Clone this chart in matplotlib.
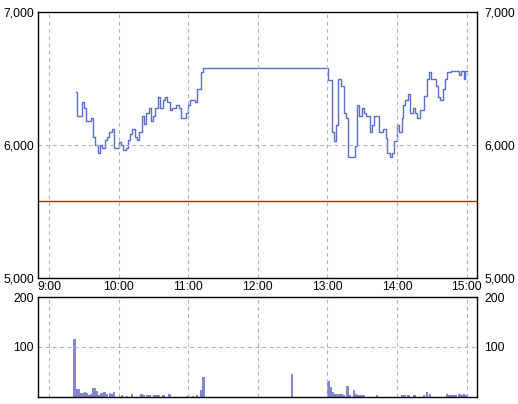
import numpy as np
import matplotlib.pyplot as plt
from matplotlib.ticker import FuncFormatter
from matplotlib.transforms import ScaledTranslation

plt.rcParams['font.family'] = ['Liberation Sans', 'DejaVu Sans']

# price steps: minutes after 9:00 and price
price_min = [23.3, 24.1, 28.5, 30.2, 32.2, 35.9, 37.7, 39.4, 42.3, 44.0,
             45.7, 48.0, 49.7, 51.8, 54.1, 55.8, 60.4, 62.1, 63.8, 66.1,
             67.9, 69.6, 71.6, 73.9, 75.6, 77.3, 80.2, 81.9, 83.7, 86.0,
             87.7, 89.4, 91.7, 94.0, 95.7, 98.0, 99.8, 101.5, 104.4, 105.8,
             109.3, 112.1, 113.9, 117.9, 119.9, 121.3, 125.9, 127.7, 131.4, 132.8,
             240.6, 243.8, 245.5, 247.3, 249.5, 251.6, 253.9, 255.6, 257.9, 263.9,
             265.7, 267.4, 269.7, 271.4, 273.7, 276.6, 278.3, 280.0, 284.1, 288.1,
             290.1, 291.8, 293.8, 295.6, 297.3, 299.6, 301.6, 303.9, 305.3, 307.3,
             309.1, 311.1, 313.4, 315.4, 317.4, 319.7, 323.7, 325.5, 327.8, 329.5,
             333.5, 335.5, 337.5, 339.8, 341.6, 343.3, 346.2, 353.6, 355.4, 357.7,
             358.8]
price = [6400, 6220, 6320, 6280, 6180, 6200, 6060, 6000, 5940, 6000,
         5980, 6040, 6060, 6100, 6120, 5980, 6020, 6000, 5960, 5980,
         6040, 6080, 6120, 6060, 6040, 6100, 6220, 6160, 6240, 6280,
         6180, 6220, 6280, 6360, 6280, 6340, 6360, 6320, 6260, 6280,
         6300, 6280, 6200, 6240, 6300, 6340, 6320, 6420, 6550, 6580,
         6490, 6100, 6030, 6150, 6500, 6440, 6240, 6200, 5910, 5990,
         6300, 6220, 6280, 6240, 6220, 6100, 6150, 6220, 6100, 6120,
         6050, 5940, 5910, 5940, 6030, 6150, 6100, 6200, 6300, 6340,
         6380, 6240, 6280, 6240, 6200, 6260, 6370, 6500, 6550, 6500,
         6440, 6360, 6340, 6420, 6500, 6550, 6560, 6530, 6560, 6500,
         6560]
close_min = 360
ref_price = 5580

# volume bars
vol_min = [22.0, 23.8, 25.5, 28.0, 29.5, 30.9, 32.2, 34.3, 35.9, 37.7,
           39.4, 41.3, 43.1, 45.3, 47.7, 50.0, 52.3, 53.6, 55.8, 63.0,
           67.0, 71.6, 79.6, 81.7, 84.8, 86.5, 90.6, 92.3, 94.3, 98.6,
           103.8, 119.3, 123.9, 127.4, 131.4, 133.1,
           209.3, 240.9, 242.9, 244.7, 246.7, 248.7, 250.4, 252.1, 253.9, 257.3,
           259.3, 263.1, 264.8, 266.8, 268.9, 271.0, 282.6, 304.9, 306.8, 310.0,
           315.1, 323.4, 325.7, 328.3, 343.0, 344.7, 346.4, 348.5, 350.5, 353.9,
           355.9, 357.9, 359.4]
volume = [116, 15, 15, 8, 8, 9, 8, 4, 5, 17,
          17, 11, 4, 8, 10, 5, 8, 6, 9, 3,
          2, 5, 5, 3, 4, 3, 3, 4, 4, 3,
          5, 2, 2, 3, 14, 39,
          45, 31, 19, 9, 6, 5, 6, 5, 3, 21,
          4, 13, 6, 4, 3, 3, 3, 4, 3, 3,
          3, 3, 9, 5, 5, 3, 3, 4, 4, 5,
          3, 6, 3]

hour_ticks = [0, 60, 120, 180, 240, 300, 360]
hour_labels = ['9:00', '10:00', '11:00', '12:00', '13:00', '14:00', '15:00']

fig = plt.figure(figsize=(5.18, 4.04), dpi=100)
ax = fig.add_axes([38/518, 1-278/404, 439/518, 266/404])
axv = fig.add_axes([38/518, 1-396.5/404, 439/518, 99.5/404])

grid_kw = dict(color='#b0b6c8', lw=0.8, linestyle=(0, (3.5, 3)))
fs = 8.7
xlim = (-9.6, 369)

# price panel
ax.plot(price_min + [close_min], price + [price[-1]], drawstyle='steps-post',
        color='#5a6ed0', lw=1.0)
ax.axhline(ref_price, color='#ff0000', lw=1.0)
ax.set_xlim(*xlim)
ax.set_ylim(5000, 7000)
ax.set_yticks([5000, 6000, 7000])
ax.yaxis.set_major_formatter(FuncFormatter(lambda v, p: f'{int(v):,}'))
ax.set_xticks(hour_ticks)
ax.set_xticklabels(hour_labels)
for v in hour_ticks:
    ax.axvline(v, **grid_kw)
ax.axhline(6000, **grid_kw)
ax.tick_params(axis='x', length=0, pad=2, labelsize=fs)

# volume panel
axv.bar(vol_min, volume, width=2.1, color='#8484d0', linewidth=0)
axv.set_xlim(*xlim)
axv.set_ylim(0, 200)
axv.set_yticks([100, 200])
axv.set_xticks([])
for v in hour_ticks:
    axv.axvline(v, **grid_kw)
axv.axhline(100, **grid_kw)

shift = ScaledTranslation(3/100, 0, fig.dpi_scale_trans)
for a in (ax, axv):
    a.tick_params(axis='y', length=0, pad=3, labelsize=fs, labelright=True)
    for s in a.spines.values():
        s.set_color('black')
        s.set_linewidth(1.0)
    for t in a.yaxis.get_major_ticks():
        t.label2.set_transform(t.label2.get_transform() + shift)

fig.savefig('out.png', dpi=100)
